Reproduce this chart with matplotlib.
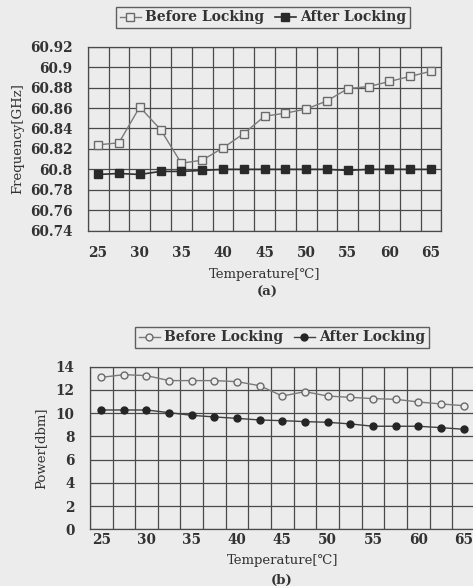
import numpy as np
import matplotlib.pyplot as plt
from matplotlib.ticker import FixedLocator

# temperatures (one category every 2.5 C, label every 5 C)
temps = [25, 27.5, 30, 32.5, 35, 37.5, 40, 42.5, 45, 47.5, 50, 52.5, 55, 57.5, 60, 62.5, 65]
tick_labels = ['25', '30', '35', '40', '45', '50', '55', '60', '65']

freq_before = [60.824, 60.826, 60.861, 60.839, 60.806, 60.809, 60.821, 60.835, 60.852,
               60.855, 60.859, 60.867, 60.879, 60.881, 60.886, 60.891, 60.896]
freq_after = [60.795, 60.796, 60.795, 60.798, 60.798, 60.799, 60.800, 60.800, 60.800,
              60.800, 60.800, 60.800, 60.799, 60.800, 60.800, 60.800, 60.800]

pow_before = [13.08, 13.31, 13.23, 12.80, 12.80, 12.80, 12.71, 12.36, 11.47,
              11.85, 11.47, 11.36, 11.25, 11.19, 10.96, 10.79, 10.64]
pow_after = [10.27, 10.27, 10.27, 10.04, 9.81, 9.67, 9.55, 9.41, 9.35,
             9.27, 9.21, 9.07, 8.87, 8.87, 8.87, 8.75, 8.61]

freq_ticks = [60.74, 60.76, 60.78, 60.8, 60.82, 60.84, 60.86, 60.88, 60.9, 60.92]
freq_labels = ['60.74', '60.76', '60.78', '60.8', '60.82', '60.84', '60.86', '60.88', '60.9', '60.92']
pow_ticks = [0, 2, 4, 6, 8, 10, 12, 14]

bg = '#ececec'
txt = '#333333'
grid_c = '#4a4a4a'
plt.rcParams['font.family'] = ['DejaVu Serif', 'DejaVu Sans']
plt.rcParams['font.weight'] = 'bold'
plt.rcParams['text.color'] = txt

fig = plt.figure(figsize=(4.73, 5.86), dpi=100, facecolor=bg)

x = np.arange(len(temps))


def style_axes(ax, yticks, ylabels, ylim, xpad):
    ax.set_facecolor(bg)
    ax.set_xlim(-0.5, len(temps) - 0.5)
    ax.set_ylim(*ylim)
    ax.set_xticks(x[::2])
    ax.set_xticklabels(tick_labels)
    ax.xaxis.set_minor_locator(FixedLocator(np.arange(-0.5, len(temps), 1.0)))
    ax.set_yticks(yticks)
    ax.set_yticklabels(ylabels)
    ax.grid(True, which='minor', axis='x', color=grid_c, lw=0.9)
    ax.grid(True, which='major', axis='y', color=grid_c, lw=0.9)
    ax.tick_params(which='both', length=0, labelsize=9.8, colors=txt)
    ax.tick_params(axis='y', pad=11)
    ax.tick_params(axis='x', pad=xpad)
    for s in ax.spines.values():
        s.set_color(grid_c)
        s.set_linewidth(0.9)
    ax.set_axisbelow(True)


# (a) frequency
ax1 = fig.add_axes([0.1854, 0.6063, 0.748, 0.314])
style_axes(ax1, freq_ticks, freq_labels, (60.74, 60.92), 11)
ax1.plot(x, freq_before, color='#7a7a7a', lw=1.0, marker='s', ms=6,
         mfc=bg, mec='#6a6a6a', mew=1.0, label='Before Locking')
ax1.plot(x, freq_after, color='#303030', lw=1.2, marker='s', ms=6,
         mfc='#2a2a2a', mec='#2a2a2a', label='After Locking')
ax1.set_xlabel('Temperature[\u2103]', fontsize=9.5, labelpad=6, color=txt)
ax1.set_ylabel('Frequency[GHz]', fontsize=9.5, labelpad=4, color=txt)
leg1 = ax1.legend(loc='center', bbox_to_anchor=(263 / 473, 1 - 17.5 / 586),
                  bbox_transform=fig.transFigure, ncol=2, fontsize=10,
                  frameon=True, fancybox=False, handlelength=1.5,
                  handletextpad=0.3, columnspacing=0.8, borderpad=0.25)
leg1.get_frame().set_edgecolor('#3a3a3a')
leg1.get_frame().set_facecolor(bg)
fig.text(267 / 473, 1 - 292 / 586, '(a)', ha='center', va='center', fontsize=9.5)

# (b) power
ax2 = fig.add_axes([0.190, 0.0968, 0.814, 0.2775])
style_axes(ax2, pow_ticks, [str(t) for t in pow_ticks], (0, 14), 3)
ax2.plot(x, pow_before, color='#7a7a7a', lw=1.0, marker='o', ms=5,
         mfc=bg, mec='#6a6a6a', mew=1.0, label='Before Locking')
ax2.plot(x, pow_after, color='#404040', lw=1.0, marker='o', ms=5,
         mfc='#252525', mec='#252525', label='After Locking')
ax2.set_xlabel('Temperature[\u2103]', fontsize=9.5, labelpad=5, color=txt)
ax2.set_ylabel('Power[dbm]', fontsize=9.5, labelpad=6, color=txt)
leg2 = ax2.legend(loc='center', bbox_to_anchor=(282 / 473, 1 - 337.5 / 586),
                  bbox_transform=fig.transFigure, ncol=2, fontsize=10,
                  frameon=True, fancybox=False, handlelength=1.5,
                  handletextpad=0.3, columnspacing=0.8, borderpad=0.25)
leg2.get_frame().set_edgecolor('#3a3a3a')
leg2.get_frame().set_facecolor(bg)
fig.text(282 / 473, 1 - 580 / 586, '(b)', ha='center', va='center', fontsize=9.5)

plt.savefig('out.png', dpi=100, facecolor=bg)
